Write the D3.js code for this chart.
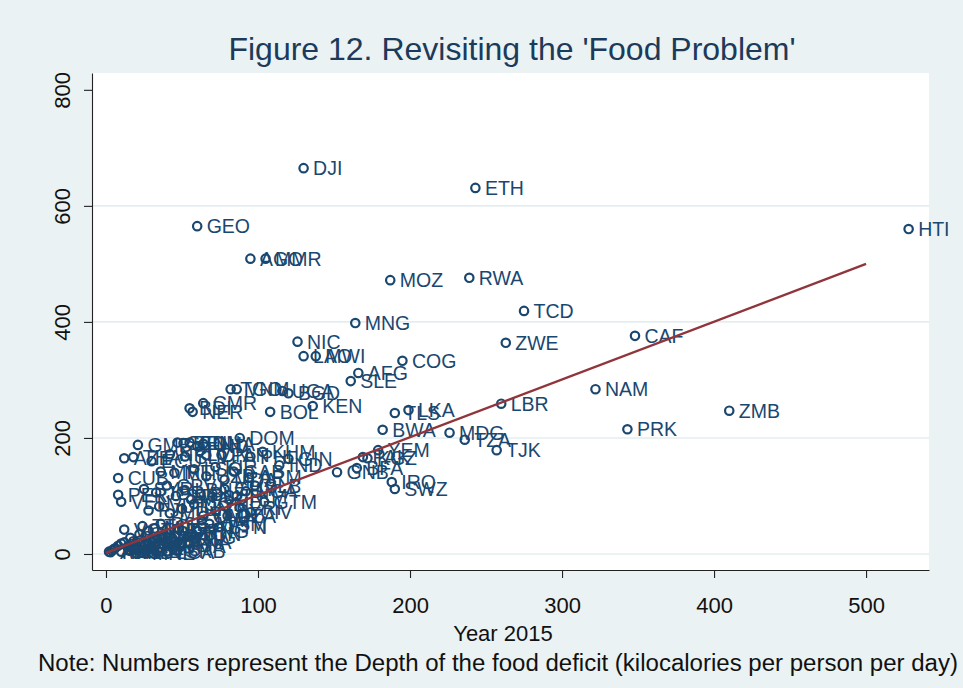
<!DOCTYPE html>
<html>
<head>
<meta charset="utf-8">
<script src="https://cdn.jsdelivr.net/npm/d3@7"></script>
<style>
  html, body { margin: 0; padding: 0; background: #eaf2f3; }
  svg { display: block; }
</style>
</head>
<body>
<svg id="chart" width="963" height="688"></svg>
<script>
// Country ISO codes, depth of food deficit in 2015 (x) and in the base period (y)
const countries = [
  "DJI","ETH","HTI","GEO","AGO","MMR","MOZ","RWA","TCD","MNG",
  "CAF","NIC","ZWE","LAO","MWI","COG","AFG","SLE","NAM","TGO",
  "VNM","UGA","BGD","KEN","CMR","NER","BDI","BOL","LBR","TLS",
  "LKA","ZMB","PRK","BWA","MDG","TZA","TJK","DOM","YEM","PAK",
  "KGZ","BFA","GNB","IRQ","SWZ",
  "GMB","SEN","BEN","SDN","HND","GHA","AZE","THA","ECU","NPL",
  "SLV","IDN","PAN","PHL","KHM","GIN","CUB","MRT","MLI","LSO",
  "UZB","KIR","MDA","GAB","ARM","IND","PER","VEN","SYR","JOR",
  "CPV","STP","LBN","MAR","BLZ","SUR","GUY","NGA","TKM","SLB",
  "GTM","FJI","VUT","MDV","TUN","COM","OMN","JAM","LBY","DZA",
  "ERI","CIV","CHN","MYS","KOR","TUR","ALB","ARG","BRA","CHL",
  "COL","CRI","EGY","IRN","KAZ","KWT","MEX","SAU","URY","ARE",
  "BRB","TTO","MUS","BRN","PSE","ZAF","VCT","GRD","DMA","KNA",
  "ATG","LCA","BHS","MNE","MKD","BIH","SRB","PNG","WSM","TON","BTN"
];
const deficit2015 = [
  130,243,528,60,95,105,187,239,275,164,
  348,126,263,130,138,195,166,161,322,82,
  86,116,120,136,64,57,55,108,260,190,
  199,410,343,182,226,236,257,88,179,169,
  172,165,152,188,190,
  21,47,51,55,60,64,12,18,30,42,
  52,66,76,95,103,120,8,36,45,58,
  66,72,78,84,94,114,8,10,25,33,
  40,46,52,56,62,70,78,92,86,98,
  104,28,35,42,50,58,64,63,72,80,
  88,95,22,10,6,2,4,3,8,5,
  16,12,14,18,20,26,30,34,38,28,
  40,24,32,44,36,48,12,16,44,50,
  54,40,30,24,10,18,46,60,68,56,74
];
const deficitBase = [
  665,631,560,565,509,509,472,476,419,398,
  376,366,364,341,341,333,312,298,284,284,
  284,281,277,255,260,245,251,245,259,243,
  248,247,215,214,209,197,179,200,179,167,
  165,148,141,124,112,
  188,192,191,192,186,190,165,167,160,172,
  168,170,171,168,176,164,131,142,140,146,
  134,150,128,142,132,153,102,90,112,106,
  118,100,110,94,104,98,112,108,100,118,
  90,75,82,70,78,86,66,58,74,66,
  80,72,34,18,10,4,6,3,14,8,
  28,20,12,22,10,18,22,28,16,40,
  36,48,44,26,52,42,42,6,14,20,
  30,4,8,2,4,12,6,40,52,34,46
];

// Fitted line end points
const fitX = [0, 500];
const fitY = [2, 500];

// Axis ticks (grid lines drawn on the inner ones)
const xTicks = [0, 100, 200, 300, 400, 500];
const yTicks = [0, 200, 400, 600, 800];
const yGrid = [0, 200, 400, 600];

const navy = "#1a476f";
const maroon = "#90353b";
const font = "'Liberation Sans', Arial, Helvetica, sans-serif";

const W = 963, H = 688;
const plot = { left: 92, right: 929, top: 73, bottom: 570 };

const svg = d3.select("#chart");

svg.append("rect").attr("width", W).attr("height", H).attr("fill", "#eaf2f3");
svg.append("rect")
  .attr("x", plot.left).attr("y", plot.top)
  .attr("width", plot.right - plot.left).attr("height", plot.bottom - plot.top)
  .attr("fill", "#ffffff");

const x = d3.scaleLinear().domain([-9.2, 541.4]).range([plot.left, plot.right]);
const y = d3.scaleLinear().domain([-27.6, 829]).range([plot.bottom, plot.top]);

// Horizontal grid lines
svg.append("g").selectAll("line").data(yGrid).join("line")
  .attr("x1", plot.left).attr("x2", plot.right)
  .attr("y1", d => y(d)).attr("y2", d => y(d))
  .attr("stroke", "#e4eef0").attr("stroke-width", 1.6);

// Points and labels
const pts = countries.map((c, i) => ({ code: c, vx: deficit2015[i], vy: deficitBase[i] }));

const gPts = svg.append("g");
pts.forEach(p => {
  gPts.append("circle")
    .attr("cx", x(p.vx)).attr("cy", y(p.vy)).attr("r", 4.2)
    .attr("fill", "none").attr("stroke", navy).attr("stroke-width", 2.2);
  gPts.append("text")
    .attr("x", x(p.vx) + 9.5).attr("y", y(p.vy))
    .attr("dy", "0.36em")
    .attr("font-family", font).attr("font-size", 19.5)
    .attr("fill", navy)
    .text(p.code);
});

// Fitted line, drawn over the markers
svg.append("line")
  .attr("x1", x(fitX[0])).attr("y1", y(fitY[0]))
  .attr("x2", x(fitX[1])).attr("y2", y(fitY[1]))
  .attr("stroke", maroon).attr("stroke-width", 2.3);

// Axes
const xAxis = svg.append("g")
  .attr("transform", `translate(0,${plot.bottom})`)
  .call(d3.axisBottom(x).tickValues(xTicks).tickSize(8).tickSizeOuter(0).tickPadding(19));
xAxis.selectAll("text").attr("font-family", font).attr("font-size", 22).attr("fill", "#111");
xAxis.select(".domain").attr("stroke", "#222").attr("stroke-width", 1.1);
xAxis.selectAll(".tick line").attr("stroke", "#222").attr("stroke-width", 1.1);

const yAxis = svg.append("g")
  .attr("transform", `translate(${plot.left},0)`)
  .call(d3.axisLeft(y).tickValues(yTicks).tickSize(8).tickSizeOuter(0));
yAxis.select(".domain").attr("stroke", "#222").attr("stroke-width", 1.1);
yAxis.selectAll(".tick line").attr("stroke", "#222").attr("stroke-width", 1.1);
yAxis.selectAll(".tick text")
  .attr("font-family", font).attr("font-size", 22).attr("fill", "#111")
  .attr("x", null).attr("dy", null)
  .attr("text-anchor", "middle")
  .attr("transform", "translate(-22,0) rotate(-90)");

// Titles
svg.append("text")
  .attr("x", 512).attr("y", 60)
  .attr("text-anchor", "middle")
  .attr("font-family", font).attr("font-size", 32)
  .attr("fill", "#1c3a5a")
  .text("Figure 12. Revisiting the 'Food Problem'");

svg.append("text")
  .attr("x", 503).attr("y", 641)
  .attr("text-anchor", "middle")
  .attr("font-family", font).attr("font-size", 22)
  .attr("fill", "#111")
  .text("Year 2015");

svg.append("text")
  .attr("x", 38).attr("y", 671)
  .attr("font-family", font).attr("font-size", 23)
  .attr("fill", "#111")
  .attr("textLength", 920).attr("lengthAdjust", "spacingAndGlyphs")
  .text("Note: Numbers represent the Depth of the food deficit (kilocalories per person per day)");
</script>
</body>
</html>
